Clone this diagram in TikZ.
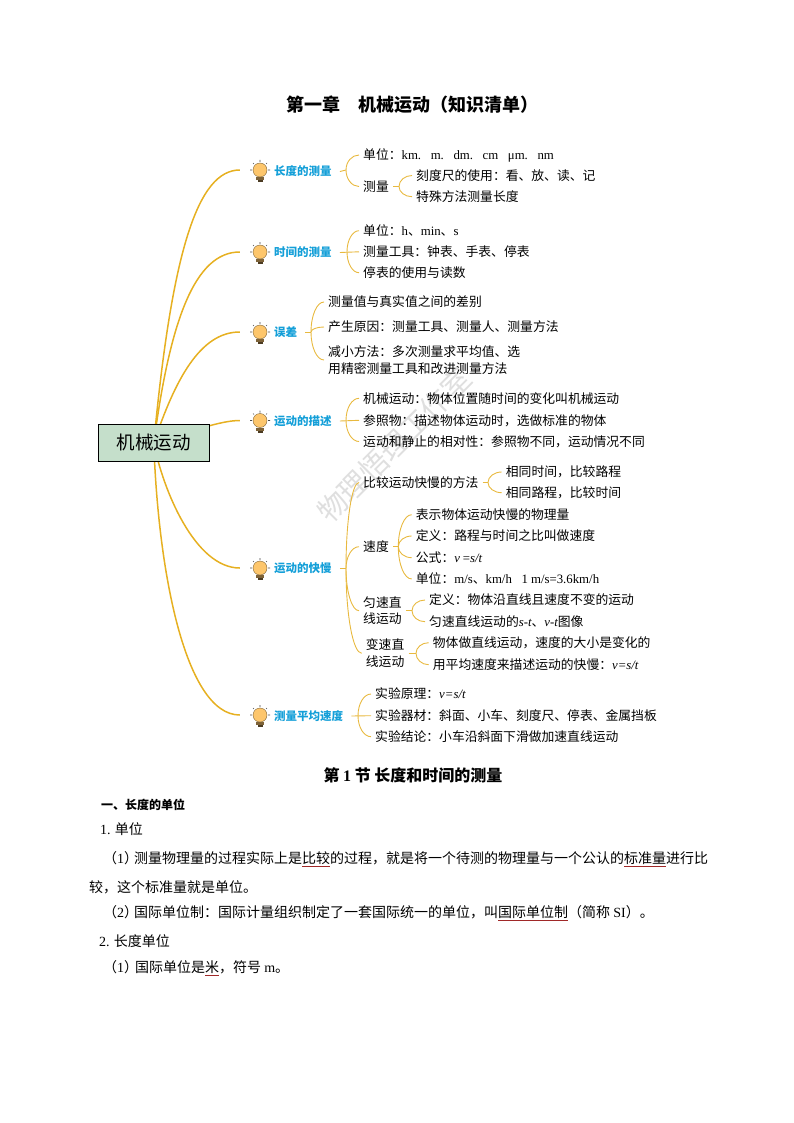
\documentclass[tikz,border=0pt]{standalone}
\usepackage{fontspec}
\setmainfont{Liberation Serif}
\newfontfamily\cjk{Noto Sans CJK SC}
\newfontfamily\tm{Liberation Serif}
\usetikzlibrary{backgrounds,calc}
\definecolor{trunkcol}{HTML}{E6B021}
\definecolor{forkcol}{HTML}{E8B93F}
\definecolor{topiccol}{HTML}{149FD8}
\definecolor{rootcol}{HTML}{C5DFCB}
\definecolor{bulbcol}{HTML}{FDC66C}
\definecolor{basecol}{HTML}{7D6238}
\definecolor{linecol}{HTML}{A02828}
\newcommand{\lat}[1]{{\tm #1}}
\newcommand{\ita}[1]{{\tm\itshape #1}}
\newcommand{\redline}[1]{\setbox0\hbox{#1}\rlap{\textcolor{linecol}{\rule[-2.5pt]{\wd0}{0.6pt}}}\box0}
\tikzset{
  trunk/.style={draw=trunkcol, line width=1.5pt},
  fork/.style={draw=forkcol, line width=0.9pt, to path={(\tikztostart) .. controls ($(\tikztostart)!0.55!(\tikztostart |- \tikztotarget)$) and ($(\tikztostart |- \tikztotarget)!0.45!(\tikztotarget)$) .. (\tikztotarget)}},
  stub/.style={draw=forkcol, line width=0.9pt},
  root/.style={draw=black, line width=0.9pt, fill=rootcol, minimum width=111pt, minimum height=37pt, inner sep=0pt, font=\cjk\fontsize{18.5}{22}\selectfont},
  leaf/.style={anchor=west, inner ysep=0pt, inner xsep=4pt, align=left, font=\cjk\fontsize{12.8}{16.6}\selectfont},
  topic/.style={anchor=west, inner ysep=0pt, inner xsep=8pt, text=topiccol, font=\cjk\bfseries\fontsize{11.5}{14}\selectfont},
  bulbspot/.style={circle, minimum size=40pt, inner sep=0pt},
  body/.style={anchor=west, inner sep=0pt, font=\cjk\fontsize{14}{17}\selectfont},
  bulb/.pic={
    \fill[basecol] (-4,7) rectangle (4,10);
    \fill[basecol!60!black] (-2.5,10) rectangle (2.5,12);
    \draw[bulbcol!50!black, fill=bulbcol, line width=0.4pt] (0,0) circle (7pt);
    \draw[black!70, line width=0.6pt] (0,-10) -- (0,-8) (-10,0) -- (-8,0) (10,0) -- (8,0) (-7,-7) -- (-6,-6) (7,-7) -- (6,-6);
  }
}
\begin{document}
\begin{tikzpicture}[x=1pt, y=-1pt]
\useasboundingbox (0,0) rectangle (794,1123);

% page headings
\node[font=\cjk\bfseries\fontsize{18}{22}\selectfont, inner sep=0pt] (title) at (412,105) {第一章　机械运动（知识清单）};
\node[font=\cjk\bfseries\fontsize{16}{19}\selectfont, inner sep=0pt] (section) at (413,775) {第 \lat{1} 节 长度和时间的测量};

% centre and topics
\node[root] (root) at (153.8,443) {机械运动};
\node[bulbspot] (b1) at (260,170) {}; \pic at (b1) {bulb};
\node[bulbspot] (b2) at (260,252) {}; \pic at (b2) {bulb};
\node[bulbspot] (b3) at (260,332) {}; \pic at (b3) {bulb};
\node[bulbspot] (b4) at (260,420.5) {}; \pic at (b4) {bulb};
\node[bulbspot] (b5) at (260,568) {}; \pic at (b5) {bulb};
\node[bulbspot] (b6) at (260,715) {}; \pic at (b6) {bulb};
\node[topic] (t1) at (266,171.5) {长度的测量};
\node[topic] (t2) at (266,252.5) {时间的测量};
\node[topic] (t3) at (266,332) {误差};
\node[topic] (t4) at (266,421) {运动的描述};
\node[topic] (t5) at (266,568.5) {运动的快慢};
\node[topic] (t6) at (266,716) {测量平均速度};

% length
\node[leaf] (a1) at (359,155) {单位：\lat{km.\ \ \ m.\ \ \ dm.\ \ \ cm\ \ \ μm.\ \ \ nm}};
\node[leaf] (a2) at (359,186.5) {测量};
\node[leaf] (a3) at (412,175.5) {刻度尺的使用：看、放、读、记};
\node[leaf] (a4) at (412,196.7) {特殊方法测量长度};
\coordinate (h1) at (346,170);
\coordinate (h1b) at (399,186.5);
\draw[stub] (t1.east) -- (h1);
\draw[fork] (h1) to (a1.west);
\draw[fork] (h1) to (a2.west);
\draw[stub] (a2.east) -- (h1b);
\draw[fork] (h1b) to (a3.west);
\draw[fork] (h1b) to (a4.west);

% time
\node[leaf] (c1) at (359,230.7) {单位：\lat{h}、\lat{min}、\lat{s}};
\node[leaf] (c2) at (359,251.8) {测量工具：钟表、手表、停表};
\node[leaf] (c3) at (359,272.7) {停表的使用与读数};
\coordinate (h2) at (347,251.8);
\draw[stub] (t2.east) -- (c2.west);
\draw[fork] (h2) to (c1.west);
\draw[fork] (h2) to (c3.west);

% error
\node[leaf] (e1) at (324,302) {测量值与真实值之间的差别};
\node[leaf] (e2) at (324,327) {产生原因：测量工具、测量人、测量方法};
\node[leaf] (e3) at (324,360) {减小方法：多次测量求平均值、选\\用精密测量工具和改进测量方法};
\coordinate (h3) at (311,332);
\draw[stub] (t3.east) -- (h3);
\draw[fork] (h3) to (e1.west);
\draw[fork] (h3) to (e2.west);
\draw[fork] (h3) to (e3.west);

% description
\node[leaf] (d1) at (359,398.3) {机械运动：物体位置随时间的变化叫机械运动};
\node[leaf] (d2) at (359,420.3) {参照物：描述物体运动时，选做标准的物体};
\node[leaf] (d3) at (359,441.5) {运动和静止的相对性：参照物不同，运动情况不同};
\coordinate (h4) at (346,420.3);
\draw[stub] (t4.east) -- (d2.west);
\draw[fork] (h4) to (d1.west);
\draw[fork] (h4) to (d3.west);

% speed
\node[leaf] (s1) at (359,482.5) {比较运动快慢的方法};
\node[leaf] (s1a) at (501.7,472) {相同时间，比较路程};
\node[leaf] (s1b) at (501.7,492.7) {相同路程，比较时间};
\node[leaf] (s2) at (359,546.7) {速度};
\node[leaf] (s2a) at (411.7,514.7) {表示物体运动快慢的物理量};
\node[leaf] (s2b) at (411.7,536) {定义：路程与时间之比叫做速度};
\node[leaf] (s2c) at (411.7,557.7) {公式：\ita{v} \lat{=}\ita{s/t}};
\node[leaf] (s2d) at (411.7,579) {单位：\lat{m/s}、\lat{km/h\ \ \ 1 m/s=3.6km/h}};
\node[leaf] (s3) at (359,610.7) {匀速直\\线运动};
\node[leaf] (s3a) at (425,600) {定义：物体沿直线且速度不变的运动};
\node[leaf] (s3b) at (425,621.7) {匀速直线运动的\ita{s-t}、\ita{v-t}图像};
\node[leaf] (s4) at (361.7,653.3) {变速直\\线运动};
\node[leaf] (s4a) at (428.7,642.7) {物体做直线运动，速度的大小是变化的};
\node[leaf] (s4b) at (428.7,664.7) {用平均速度来描述运动的快慢：\ita{v=s/t}};
\coordinate (h5) at (346,568.5);
\coordinate (h5a) at (488,482.5);
\coordinate (h5b) at (398.3,546.7);
\coordinate (h5c) at (412,610.7);
\coordinate (h5d) at (416,653.3);
\draw[stub] (t5.east) -- (h5);
\draw[fork] (h5) to (s1.west);
\draw[fork] (h5) to (s2.west);
\draw[fork] (h5) to (s3.west);
\draw[fork] (h5) to (s4.west);
\draw[stub] (s1.east) -- (h5a);
\draw[fork] (h5a) to (s1a.west);
\draw[fork] (h5a) to (s1b.west);
\draw[stub] (s2.east) -- (h5b);
\draw[fork] (h5b) to (s2a.west);
\draw[fork] (h5b) to (s2b.west);
\draw[fork] (h5b) to (s2c.west);
\draw[fork] (h5b) to (s2d.west);
\draw[stub] (s3.east) -- (h5c);
\draw[fork] (h5c) to (s3a.west);
\draw[fork] (h5c) to (s3b.west);
\draw[stub] (s4.east) -- (h5d);
\draw[fork] (h5d) to (s4a.west);
\draw[fork] (h5d) to (s4b.west);

% measuring
\node[leaf] (m1) at (371,694) {实验原理：\ita{v=s/t}};
\node[leaf] (m2) at (371,715.7) {实验器材：斜面、小车、刻度尺、停表、金属挡板};
\node[leaf] (m3) at (371,736.7) {实验结论：小车沿斜面下滑做加速直线运动};
\coordinate (h6) at (358,715.7);
\draw[stub] (t6.east) -- (m2.west);
\draw[fork] (h6) to (m1.west);
\draw[fork] (h6) to (m3.west);

% text under the map
\node[body, font=\cjk\bfseries\fontsize{12}{15}\selectfont] (p1) at (101,805) {一、长度的单位};
\node[body] (p2) at (100,829) {\lat{1.} 单位};
\node[body] (p3) at (103,859) {（\lat{1}）\hspace{-4pt}测量物理量的过程实际上是\redline{比较}的过程，就是将一个待测的物理量与一个公认的\redline{标准量}进行比};
\node[body] (p4) at (89,887) {较，这个标准量就是单位。};
\node[body] (p5) at (103,913) {（\lat{2}）\hspace{-4pt}国际单位制：国际计量组织制定了一套国际统一的单位，叫\redline{国际单位制}（简称 \lat{SI}）。};
\node[body] (p6) at (99,941) {\lat{2.} 长度单位};
\node[body] (p7) at (103,968) {（\lat{1}）\hspace{-3pt}国际单位是\redline{米}，符号 \lat{m}。};

% behind everything
\begin{scope}[on background layer]
\node[rotate=45, text=gray!25, font=\cjk\fontsize{29}{32}\selectfont, inner sep=0pt] (mark) at (394,445) {物理悟理工作室};
\draw[trunk] (root.center) .. controls (172,250) and (198,170) .. (b1.west);
\draw[trunk] (root.center) .. controls (170,320) and (195,252) .. (b2.west);
\draw[trunk] (root.center) .. controls (175,380) and (200,332) .. (b3.west);
\draw[trunk] (root.center) .. controls (190,432) and (220,420.5) .. (b4.west);
\draw[trunk] (root.center) .. controls (163,490) and (195,568) .. (b5.west);
\draw[trunk] (root.center) .. controls (158,570) and (185,715) .. (b6.west);
\end{scope}
\end{tikzpicture}
\end{document}
